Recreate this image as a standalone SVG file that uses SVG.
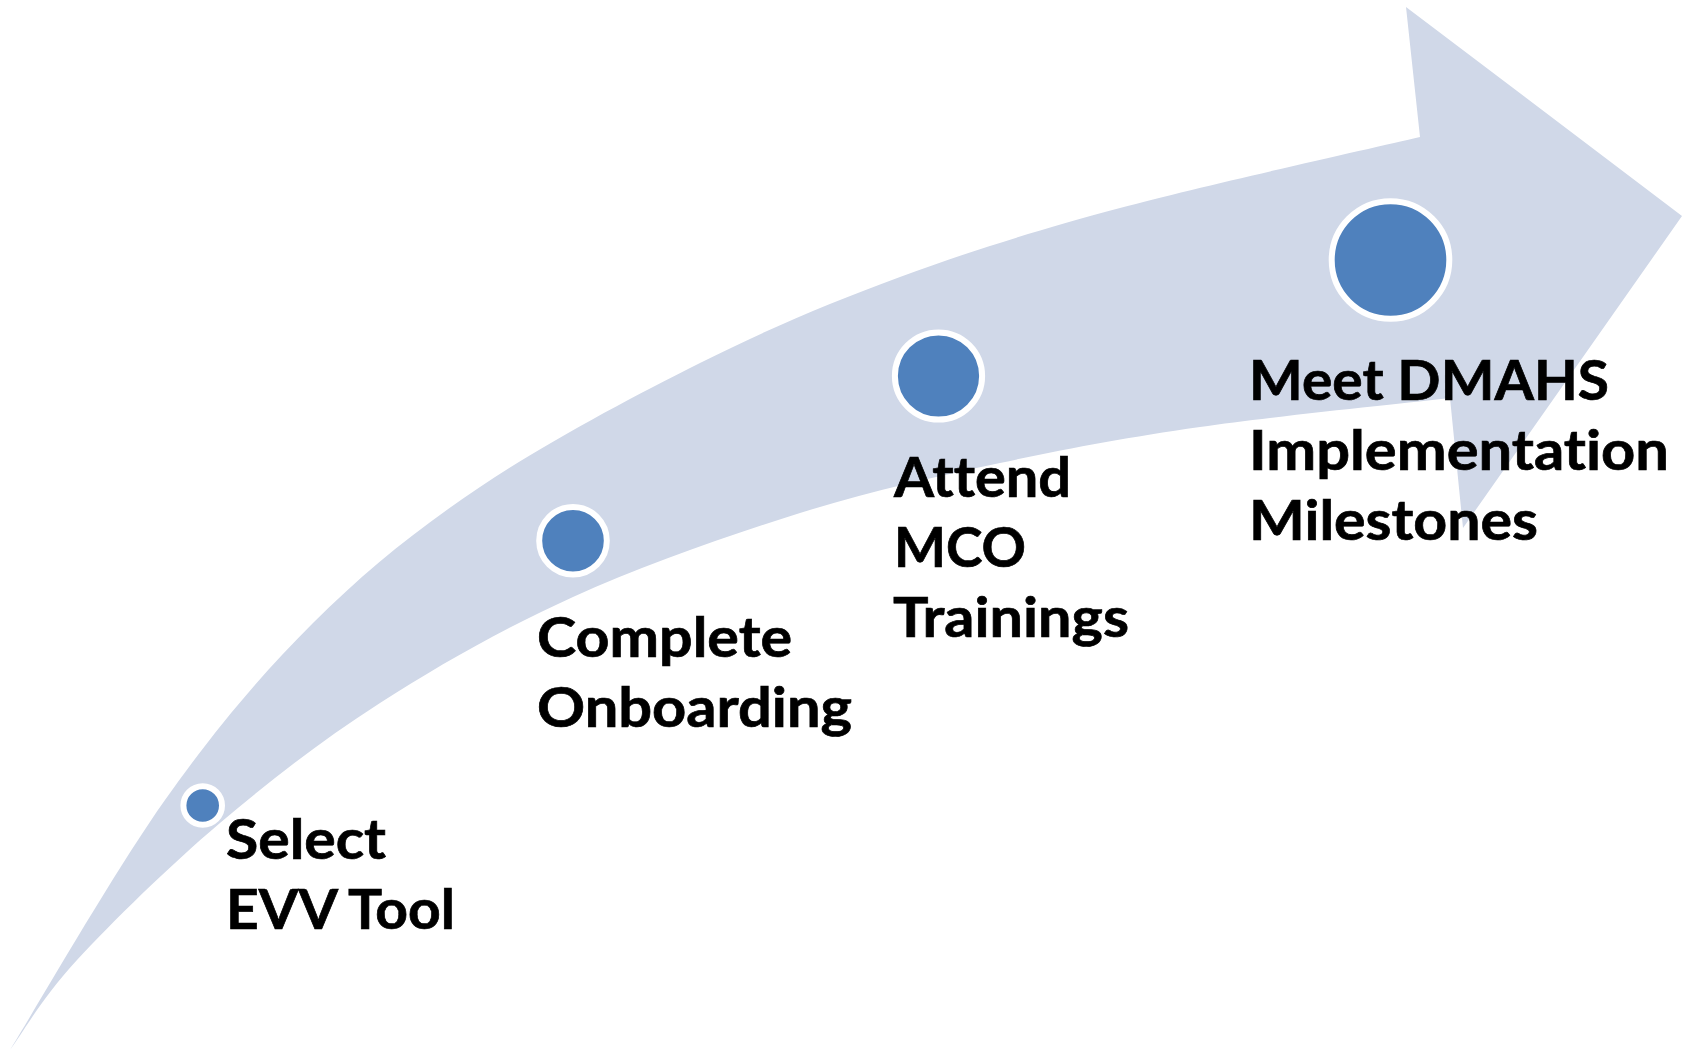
<svg xmlns="http://www.w3.org/2000/svg" width="1691" height="1053" viewBox="0 0 1691 1053">
<style>
.band{fill:#D0D8E8;stroke:none}
.dot{fill:#4F81BD;stroke:#FFFFFF;stroke-width:6}
.lbl{font-family:Lato,"Liberation Sans",sans-serif;font-weight:700;font-size:56px;fill:#000000;stroke:#000000;stroke-width:0.7;font-variant-ligatures:none;font-feature-settings:"liga" 0,"clig" 0,"dlig" 0}
</style>
<rect width="1691" height="1053" fill="#FFFFFF"/>
<g id="arrow">
<path class="band" d="M10,1050 C35.8,1008.3 114.5,871.2 165,800 C215.5,728.8 260.5,675.2 313,623 C365.5,570.8 415.5,530.3 480,487 C544.5,443.7 630,398 700,363 C770,328 830,302.8 900,277 C970,251.2 1033.3,231.3 1120,208 C1206.7,184.7 1370,148.8 1420,137 L1406,7 L1682,216 L1463,528 L1450,398 C1408.3,402.8 1275,416.2 1200,427 C1125,437.8 1066.7,448.7 1000,463 C933.3,477.3 871.2,490.7 800,513 C728.8,535.3 643,565.3 573,597 C503,628.7 438.8,665.3 380,703 C321.2,740.7 270.5,780.2 220,823 C169.5,865.8 112,922.2 77,960 C42,997.8 21.2,1035 10,1050 Z"/>
</g>
<g id="step1">
<circle class="dot" cx="202.7" cy="805.5" r="19.3"/>
<text class="lbl"><tspan x="226" y="859.3" textLength="160" lengthAdjust="spacingAndGlyphs">Select</tspan><tspan x="226" y="929.3" textLength="229" lengthAdjust="spacingAndGlyphs">EVV Tool</tspan></text>
</g>
<g id="step2">
<circle class="dot" cx="573" cy="540.7" r="33.8"/>
<text class="lbl"><tspan x="537" y="656.7" textLength="255" lengthAdjust="spacingAndGlyphs">Complete</tspan><tspan x="537" y="726.7" textLength="315" lengthAdjust="spacingAndGlyphs">Onboarding</tspan></text>
</g>
<g id="step3">
<circle class="dot" cx="938.5" cy="376" r="43.6"/>
<text class="lbl"><tspan x="894" y="496.7" textLength="177" lengthAdjust="spacingAndGlyphs">Attend</tspan><tspan x="894" y="566.7" textLength="132" lengthAdjust="spacingAndGlyphs">MCO</tspan><tspan x="893" y="636.7" textLength="236" lengthAdjust="spacingAndGlyphs">Trainings</tspan></text>
</g>
<g id="step4">
<circle class="dot" cx="1390.5" cy="260" r="58.8"/>
<text class="lbl"><tspan x="1249" y="400" textLength="360" lengthAdjust="spacingAndGlyphs">Meet DMAHS</tspan><tspan x="1249" y="470" textLength="420" lengthAdjust="spacingAndGlyphs">Implementation</tspan><tspan x="1249" y="540" textLength="289" lengthAdjust="spacingAndGlyphs">Milestones</tspan></text>
</g>
</svg>
